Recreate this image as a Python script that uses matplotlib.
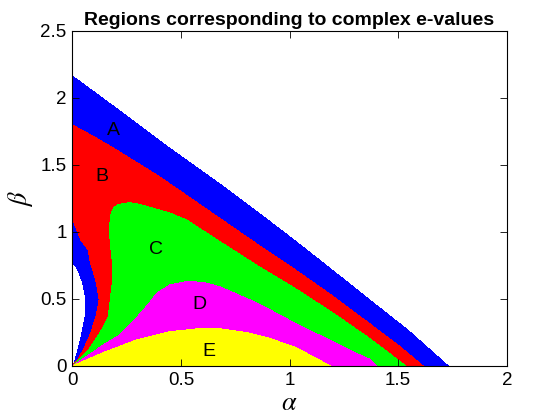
import matplotlib
matplotlib.use('Agg')
import matplotlib.pyplot as plt

plt.rcParams['font.family'] = ['Liberation Sans', 'DejaVu Sans']
plt.rcParams['mathtext.fontset'] = 'stix'

# boundary curves (alpha, beta)
outer_x = [0, 0.2, 0.449, 0.679, 0.84, 1.024, 1.2, 1.369, 1.55, 1.73]
outer_y = [2.163, 1.925, 1.623, 1.357, 1.163, 0.935, 0.71, 0.492, 0.26, 0]

hole_x = [0, 0.02, 0.043, 0.058, 0.054, 0.039, 0.02, 0]
hole_y = [0.76, 0.716, 0.617, 0.492, 0.368, 0.244, 0.119, 0]

redtop_x = [0, 0.1, 0.204, 0.403, 0.68, 0.85, 1.024, 1.2, 1.369, 1.5, 1.615]
redtop_y = [1.798, 1.71, 1.611, 1.41, 1.10, 0.91, 0.72, 0.52, 0.315, 0.155, 0]

redleft_x = [0, 0.04, 0.074, 0.081, 0.112, 0.124, 0.109, 0.085, 0.051, 0.024, 0]
redleft_y = [1.10, 0.94, 0.865, 0.79, 0.617, 0.492, 0.368, 0.244, 0.119, 0.045, 0]

green_x = [0, 0.074, 0.127, 0.166, 0.184, 0.184, 0.176, 0.171, 0.176, 0.19, 0.212, 0.265,
           0.31, 0.373, 0.45, 0.526, 0.68, 0.85, 1.024, 1.2, 1.369, 1.535]
green_y = [0, 0.119, 0.244, 0.368, 0.617, 0.79, 0.9, 1.014, 1.12, 1.18, 1.205, 1.218,
           1.205, 1.176, 1.14, 1.089, 0.927, 0.75, 0.58, 0.395, 0.205, 0]

mag_x = [0, 0.066, 0.143, 0.219, 0.296, 0.35, 0.388, 0.449, 0.526, 0.6, 0.679, 0.85,
         1.024, 1.2, 1.3, 1.369, 1.4]
mag_y = [0, 0.07, 0.157, 0.231, 0.36, 0.46, 0.542, 0.604, 0.629, 0.625, 0.591, 0.47,
         0.32, 0.18, 0.10, 0.05, 0]

yel_x = [0, 0.143, 0.296, 0.449, 0.6, 0.68, 0.8, 0.909, 1.024, 1.1, 1.187]
yel_y = [0, 0.1, 0.194, 0.256, 0.281, 0.277, 0.25, 0.206, 0.14, 0.077, 0]

labels = ['A', 'B', 'C', 'D', 'E']
label_x = [0.19, 0.135, 0.385, 0.584, 0.63]
label_y = [1.76, 1.41, 0.866, 0.455, 0.107]

fig = plt.figure(figsize=(5.6, 4.2), dpi=100)
ax = fig.add_axes([0.129, 0.1286, 0.776, 0.798])

ax.fill(outer_x + [0], outer_y + [0], color='#0000ff', lw=0, antialiased=False)
ax.fill(hole_x, hole_y, color='white', lw=0, antialiased=False)
ax.fill(redtop_x + redleft_x[::-1], redtop_y + redleft_y[::-1], color='#ff0000', lw=0, antialiased=False)
ax.fill(green_x, green_y, color='#00ff00', lw=0, antialiased=False)
ax.fill(mag_x, mag_y, color='#ff00ff', lw=0, antialiased=False)
ax.fill(yel_x, yel_y, color='#ffff00', lw=0, antialiased=False)

for s, x, y in zip(labels, label_x, label_y):
    ax.text(x, y, s, fontsize=14, ha='center', va='center')

ax.set_xlim(0, 2)
ax.set_ylim(0, 2.5)
ax.set_xticks([0, 0.5, 1, 1.5, 2])
ax.set_xticklabels(['0', '0.5', '1', '1.5', '2'])
ax.set_yticks([0, 0.5, 1, 1.5, 2, 2.5])
ax.set_yticklabels(['0', '0.5', '1', '1.5', '2', '2.5'])
ax.tick_params(direction='in', top=True, right=True, labelsize=13.5, length=5, width=0.6, pad=4)
for sp in ax.spines.values():
    sp.set_linewidth(0.8)
    sp.set_zorder(5)

ax.set_xlabel(r'$\alpha$', fontsize=19, labelpad=2)
ax.set_ylabel(r'$\beta$', fontsize=19, labelpad=4)
ax.set_title('Regions corresponding to complex e-values', fontsize=14, fontweight='bold', pad=4)

fig.savefig('out.png', dpi=100)
